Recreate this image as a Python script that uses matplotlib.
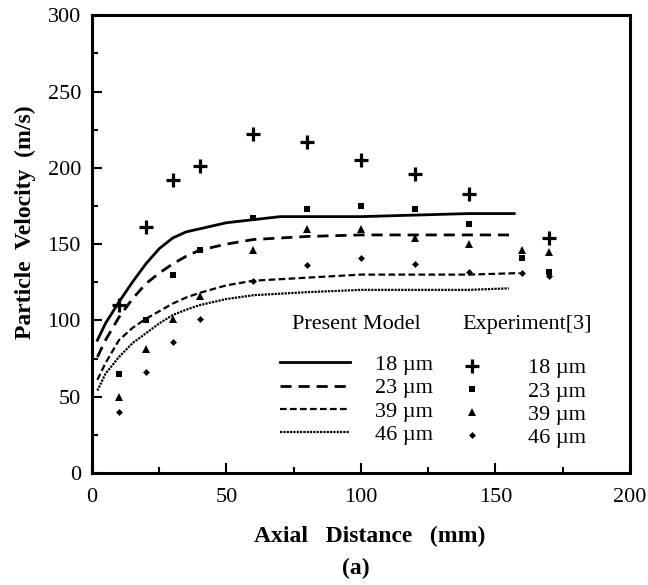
import numpy as np
import matplotlib
matplotlib.use('Agg')
import matplotlib.pyplot as plt
from matplotlib.ticker import MultipleLocator

plt.rcParams['font.family'] = ['Liberation Serif', 'DejaVu Serif']

# Model curves (Present Model)
x_18 = [2, 5, 10, 15, 20, 25, 30, 35, 40, 50, 60, 70, 80, 100, 120, 140, 157]
y_18 = [87, 98, 112, 125, 137, 147, 154, 158, 160, 164, 166, 168, 168, 168, 169, 170, 170]
x_23 = [2, 5, 10, 15, 20, 25, 30, 35, 40, 50, 60, 80, 100, 120, 140, 157]
y_23 = [76, 87, 102, 114, 124, 131, 137, 142, 146, 150, 153, 155, 156, 156, 156, 156]
x_39 = [2, 5, 10, 15, 20, 25, 30, 35, 40, 50, 60, 80, 100, 120, 140, 159]
y_39 = [61, 72, 87, 95, 101, 106, 111, 115, 118, 123, 126, 128, 130, 130, 130, 131]
x_46 = [2, 5, 10, 15, 20, 25, 30, 35, 40, 50, 60, 80, 100, 120, 140, 155]
y_46 = [54, 65, 76, 85, 91.5, 98, 103.5, 107, 110, 114, 116.5, 118.5, 120, 120, 120, 121]

# Experiment[3]
x_exp = [10, 20, 30, 40, 60, 80, 100, 120, 140, 160, 170]
e_18 = [110, 161, 192, 201, 222, 217, 205, 196, 183, np.nan, 154]
e_23 = [65, 100, 130, 146, 167, 173, 175, 173, 163, 141, 132]
e_39 = [50, 81, 101, 116, 146, 160, 160, 154, 150, 146, 145]
e_46 = [40, 66, 86, 101, 126, 136, 141, 137, 132, 131, 129]

sizes = ['18 \u00b5m', '23 \u00b5m', '39 \u00b5m', '46 \u00b5m']

fig = plt.figure(figsize=(6.48, 5.85), dpi=100)
ax = fig.add_axes([0.142, 0.1915, 0.830, 0.7825])

# line styles for model curves
styles = [
    dict(color='black', lw=2.0, ls='-'),
    dict(color='black', lw=2.0, ls=(0, (4, 2.5))),
    dict(color='black', lw=1.6, ls=(0, (3, 1.5))),
    dict(color='black', lw=1.6, ls=(0, (1, 0.5))),
]
lines = []
for (xx, yy), st in zip([(x_18, y_18), (x_23, y_23), (x_39, y_39), (x_46, y_46)], styles):
    l, = ax.plot(xx, yy, **st)
    lines.append(l)

markers = [
    dict(marker='+', ms=10, mew=2.3),
    dict(marker='s', ms=5, mew=0),
    dict(marker='^', ms=5.5, mew=0),
    dict(marker='D', ms=3.5, mew=0),
]
pts = []
for yy, mk in zip([e_18, e_23, e_39, e_46], markers):
    p, = ax.plot(x_exp, yy, ls='none', color='black', **mk)
    pts.append(p)

ax.set_xlim(0, 200)
ax.set_ylim(0, 300)
ax.xaxis.set_major_locator(MultipleLocator(50))
ax.xaxis.set_minor_locator(MultipleLocator(25))
ax.yaxis.set_major_locator(MultipleLocator(50))
ax.yaxis.set_minor_locator(MultipleLocator(25))
ax.tick_params(which='both', direction='in', top=False, right=False, width=1.5)
ax.tick_params(which='major', length=7, labelsize=16)
ax.tick_params(axis='x', which='major', pad=11)
ax.tick_params(axis='y', which='major', pad=8)
ax.tick_params(which='minor', length=4)
for s in ax.spines.values():
    s.set_linewidth(2.2)

ax.set_xlabel('Axial   Distance   (mm)', fontsize=17, fontweight='bold')
ax.xaxis.set_label_coords(0.517, -0.115)
ax.set_ylabel('Particle  Velocity  (m/s)', fontsize=17, fontweight='bold')
ax.yaxis.set_label_coords(-0.105, 0.548)
fig.text(0.549, 0.019, '(a)', fontsize=17, fontweight='bold', ha='center')

# legend headers
ax.text(0.491, 0.325, 'Present Model', transform=ax.transAxes, fontsize=16,
        ha='center', va='center')
ax.text(0.8086, 0.325, 'Experiment[3]', transform=ax.transAxes, fontsize=16,
        ha='center', va='center')

leg1 = ax.legend(lines, sizes, loc='center left', bbox_to_anchor=(0.333, 0.16),
                 frameon=False, fontsize=16, handlelength=3.15, handletextpad=1.13,
                 labelspacing=0.12, borderaxespad=0)
ax.add_artist(leg1)
ax.legend(pts, sizes, loc='center left', bbox_to_anchor=(0.669, 0.153),
          frameon=False, fontsize=16, handlelength=1.0, handletextpad=2.05,
          labelspacing=0.12, borderaxespad=0)

fig.savefig('out.png', dpi=100, facecolor='white')
